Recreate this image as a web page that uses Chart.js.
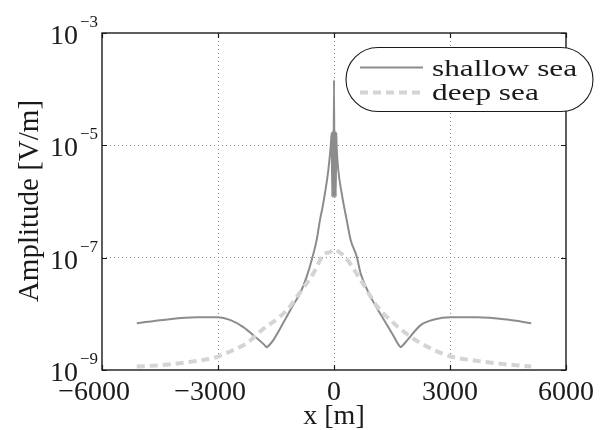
<!DOCTYPE html>
<html>
<head>
<meta charset="utf-8">
<script src="https://cdn.jsdelivr.net/npm/chart.js@4.4.1/dist/chart.umd.min.js"></script>
<style>
  html,body{margin:0;padding:0;background:#fff;}
  canvas{display:block;}
  #warm{font-family:"Liberation Serif";position:absolute;left:-999px;top:0;}
</style>
</head>
<body>
<span id="warm">shallow sea 10 −6000</span>
<canvas id="c" width="608" height="430"></canvas>
<script>
// shallow sea
const shallowX=[-5100,-4420,-3550,-3000,-2690,-2345,-2000,-1800,-1741,-1690,-1569,-1224,-1052,-879,-706,-577,-448,-362,-293,-233,-147,-86,-60,
  -45,-30,-15,0,15,30,45,
  60,69,112,198,328,431,587,690,948,1293,1552,1680,1724,1780,1897,2242,2586,3017,3706,4482,5100];
const shallowY=[6.8e-9,7.8e-9,8.7e-9,8.7e-9,7.8e-9,5.8e-9,3.7e-9,2.8e-9,2.55e-9,2.7e-9,3.4e-9,8.9e-9,1.45e-8,2.3e-8,4.6e-8,9.1e-8,2.07e-7,4.7e-7,8.1e-7,1.41e-6,3.6e-6,9.5e-6,1.66e-5,
  1.2e-6,1.8e-5,1.2e-6,1.46e-4,1.2e-6,1.8e-5,1.2e-6,
  1.66e-5,9.5e-6,3.6e-6,1.41e-6,4.7e-7,2.07e-7,1.05e-7,5.2e-8,2.0e-8,7.8e-9,3.9e-9,2.75e-9,2.55e-9,2.75e-9,3.4e-9,6.3e-9,7.9e-9,8.7e-9,8.7e-9,7.9e-9,6.8e-9];

// deep sea
const deepX=[-5100,-4420,-3550,-3034,-2690,-2258,-1828,-1397,-1138,-965,-535,-276,-103,0,198,270,690,1121,1552,1983,2413,3017,3620,4310,5100];
const deepY=[1.15e-9,1.23e-9,1.45e-9,1.7e-9,2.14e-9,3.0e-9,5.4e-9,8.9e-9,1.35e-8,2.0e-8,5.25e-8,1.12e-7,1.26e-7,1.38e-7,1.17e-7,1.07e-7,3.98e-8,1.35e-8,6.76e-9,3.89e-9,2.6e-9,1.74e-9,1.48e-9,1.29e-9,1.15e-9];

const xTicks=[-6000,-3000,0,3000,6000];
const yTicks=[1e-9,1e-7,1e-5,1e-3];
const seriesNames=['shallow sea','deep sea'];

const SERIF='"Liberation Serif"';
const INK='#1a1a1a';

function pts(xs,ys){ return xs.map((x,i)=>({x,y:ys[i]})); }

// inside ticks, frame, tick labels, titles, legend
const decor={
  id:'decor',
  afterDraw(chart){
    const c=chart.ctx, a=chart.chartArea;
    const sx=chart.scales.x, sy=chart.scales.y;
    c.save();
    c.strokeStyle=INK; c.lineWidth=1.4;
    c.strokeRect(a.left,a.top,a.right-a.left,a.bottom-a.top);
    c.lineWidth=1.2; c.beginPath();
    xTicks.forEach(v=>{
      const p=Math.round(sx.getPixelForValue(v))+0.5;
      c.moveTo(p,a.bottom); c.lineTo(p,a.bottom-5);
      c.moveTo(p,a.top); c.lineTo(p,a.top+5);
    });
    yTicks.forEach(v=>{
      const p=Math.round(sy.getPixelForValue(v))+0.5;
      c.moveTo(a.left,p); c.lineTo(a.left+5,p);
      c.moveTo(a.right,p); c.lineTo(a.right-5,p);
    });
    c.stroke();

    c.fillStyle=INK; c.textBaseline='alphabetic';
    // x tick labels: digits centred on tick, minus hanging left
    c.font='28px '+SERIF;
    xTicks.forEach(v=>{
      const p=sx.getPixelForValue(v);
      const d=String(Math.abs(v)), w=c.measureText(d).width;
      c.textAlign='left'; c.fillText(d,p-w/2,400);
      if(v<0){ c.textAlign='right'; c.fillText('\u2212',p-w/2,400); }
    });
    // y tick labels 10^n
    yTicks.forEach(v=>{
      const p=sy.getPixelForValue(v);
      const e=Math.round(Math.log10(v));
      const sup=(e<0?'\u2212':'')+Math.abs(e);
      c.font='17px '+SERIF;
      const sw=c.measureText(sup).width;
      c.textAlign='right'; c.fillText(sup,a.left-4,p-6);
      c.font='28px '+SERIF;
      c.fillText('10',a.left-4-sw-2,p+11);
    });
    // axis titles
    c.font='28px '+SERIF; c.textAlign='center';
    c.fillText('x [m]',(a.left+a.right)/2,424);
    c.save();
    c.translate(30,201); c.rotate(-Math.PI/2);
    c.font='29px '+SERIF; c.textBaseline='middle';
    c.fillText('Amplitude [V/m]',0,0);
    c.restore();

    // legend (pill shaped box)
    const L=346,T=47.5,W=247,H=64;
    c.beginPath(); c.roundRect(L,T,W,H,H/2);
    c.fillStyle='#fff'; c.fill();
    c.strokeStyle=INK; c.lineWidth=1.1; c.stroke();
    const rows=[67.5,92.5], base=[76,99.5];
    chart.data.datasets.forEach((ds,i)=>{
      c.save();
      c.strokeStyle=ds.borderColor; c.lineWidth=ds.borderWidth;
      c.setLineDash(ds.borderDash||[]);
      c.beginPath(); c.moveTo(360,rows[i]); c.lineTo(423,rows[i]); c.stroke();
      c.restore();
      c.save();
      c.translate(432,base[i]); c.scale(1.36,1);
      c.font='23px '+SERIF; c.fillStyle=INK; c.textAlign='left';
      c.fillText(seriesNames[i],0,0);
      c.restore();
    });
    c.restore();
  }
};

const edgeless=(vals)=>ctx=>{
  const v=ctx.tick&&ctx.tick.value;
  return (v===vals[0]||v===vals[vals.length-1])?'rgba(0,0,0,0)':'#8a8a8a';
};

function build(){
  new Chart(document.getElementById('c'),{
    type:'line',
    data:{datasets:[
      {label:seriesNames[0],data:pts(shallowX,shallowY),borderColor:'#8c8c8c',borderWidth:2,
       pointRadius:0,cubicInterpolationMode:'monotone',fill:false,order:1},
      {label:seriesNames[1],data:pts(deepX,deepY),borderColor:'#d4d4d4',borderWidth:4,borderDash:[8,5],
       pointRadius:0,cubicInterpolationMode:'monotone',fill:false,order:0},
    ]},
    options:{
      responsive:false,animation:false,
      layout:{padding:{left:102,top:33,right:42,bottom:60}},
      plugins:{legend:{display:false},tooltip:{enabled:false}},
      scales:{
        x:{type:'linear',min:-6000,max:6000,
           afterBuildTicks:s=>{ s.ticks=xTicks.map(v=>({value:v})); },
           ticks:{display:false},
           grid:{color:edgeless(xTicks),lineWidth:1,drawTicks:false},
           border:{display:false,dash:[1,3]}},
        y:{type:'logarithmic',min:1e-9,max:1e-3,
           afterBuildTicks:s=>{ s.ticks=yTicks.map(v=>({value:v})); },
           ticks:{display:false},
           grid:{color:edgeless(yTicks),lineWidth:1,drawTicks:false},
           border:{display:false,dash:[1,3]}},
      }
    },
    plugins:[decor]
  });
}

if(document.fonts&&document.fonts.load){
  Promise.all([document.fonts.load('28px "Liberation Serif"','10 x'),document.fonts.ready])
    .then(build,build);
} else build();
</script>
</body>
</html>
